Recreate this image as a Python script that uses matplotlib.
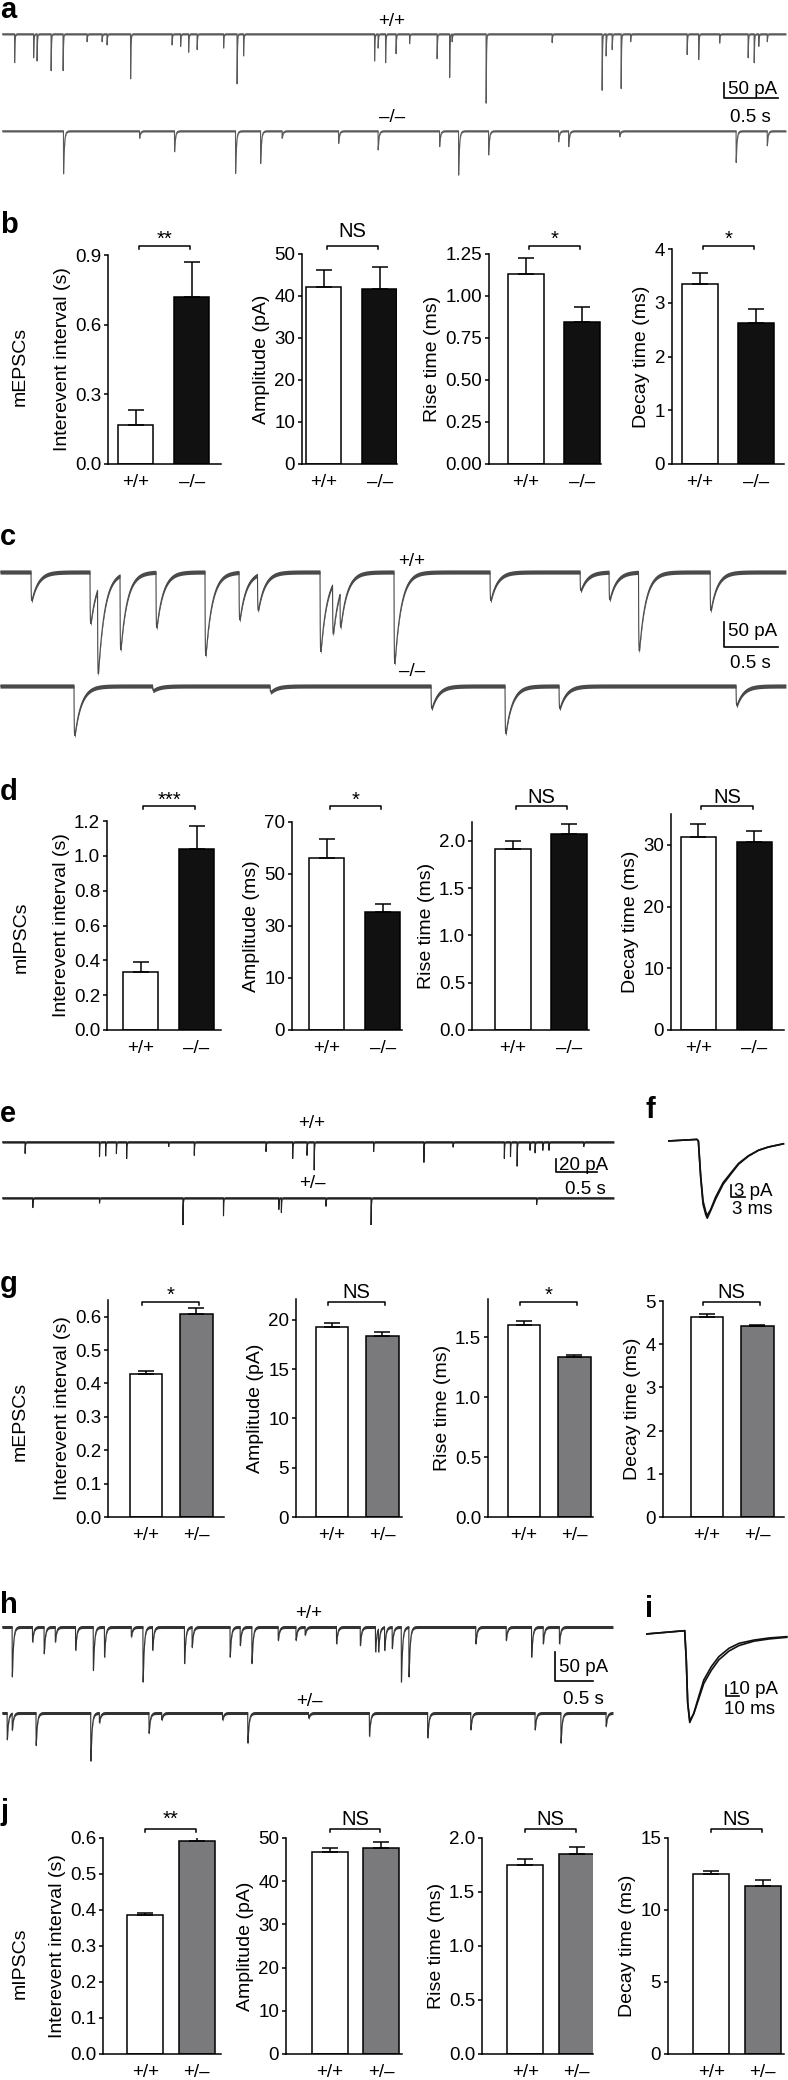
import numpy as np
import matplotlib
matplotlib.use('Agg')
import matplotlib.pyplot as plt
import matplotlib.transforms as mtransforms
from matplotlib.ticker import FormatStrFormatter, NullLocator

plt.rcParams['font.family'] = ['Liberation Sans', 'DejaVu Sans']

W, H = 788, 2080

# ---- traces: event times (s) and amplitudes (pA) ----
a_wt_t = [0.116, 0.292, 0.324, 0.454, 0.565, 0.787, 0.926, 0.972, 1.19, 1.574, 1.653, 1.727, 1.806,
          2.051, 2.176, 2.236, 3.449, 3.482, 3.551, 3.648, 3.773, 4.028, 4.144, 4.167, 4.482, 5.093,
          5.556, 5.593, 5.649, 5.732, 5.82, 6.343, 6.45, 6.644, 6.908, 6.964, 7.006, 7.085]
a_wt_a = [98, 81, 92, 125, 125, 26, 26, 37, 153, 37, 42, 62, 53,
          48, 170, 75, 92, 48, 98, 67, 33, 84, 148, 26, 236, 29,
          192, 75, 53, 186, 26, 70, 87, 31, 81, 98, 42, 26]
a_ko_t = [0.569, 1.273, 1.597, 2.162, 2.394, 2.593, 3.116, 3.482, 4.051, 4.227, 4.505, 5.153, 5.246,
          5.718, 6.797, 7.085]
a_ko_a = [143, 24, 69, 141, 108, 24, 41, 63, 52, 147, 80, 36, 52, 19, 105, 49]

c_wt_t = [0.287, 0.833, 0.903, 1.111, 1.444, 1.898, 2.213, 2.384, 2.963, 3.079, 3.148, 3.648, 4.537,
          5.371, 5.639, 5.912, 6.575]
c_wt_a = [57, 103, 170, 149, 111, 167, 95, 71, 159, 100, 70, 183, 57, 37, 55, 157, 77]
c_ko_t = [0.685, 1.412, 2.5, 3.991, 4.676, 5.176, 6.815]
c_ko_a = [99, 9, 12, 45, 95, 45, 39]

e_wt_t = [0.281, 1.188, 1.263, 1.394, 1.519, 2.031, 2.344, 3.219, 3.544, 3.719, 3.806, 4.531, 5.144,
          5.5, 6.125, 6.2, 6.281, 6.438, 6.5, 6.594, 6.669, 7.094]
e_wt_a = [18, 23, 22, 18, 26, 7, 21, 15, 26, 21, 44, 15, 32, 8, 26, 23, 38, 13, 17, 13, 13, 7]
e_het_t = [0.375, 1.188, 2.206, 2.7, 3.375, 3.406, 3.95, 4.5, 6.519]
e_het_a = [15, 8, 44, 28, 18, 23, 13, 46, 10]

h_wt_t = [0.133, 0.4, 0.553, 0.7, 0.967, 1.2, 1.347, 1.7, 1.854, 1.98, 2.4, 2.5, 3.0, 3.133, 3.287,
          3.633, 3.867, 3.987, 4.4, 4.713, 4.913, 4.953, 5.033, 5.133, 5.253, 5.353, 6.233, 6.633,
          6.967, 7.12, 7.333]
h_wt_a = [86, 26, 46, 26, 40, 75, 52, 17, 95, 40, 63, 35, 52, 32, 63,
          23, 23, 14, 29, 32, 43, 40, 40, 37, 95, 86, 29, 23,
          52, 29, 29]
h_het_t = [0.067, 0.133, 0.447, 1.167, 1.28, 1.933, 2.1, 2.9, 3.233, 4.033, 4.833, 5.6, 6.167, 7.013,
           7.353, 7.947]
h_het_a = [46, 29, 56, 83, 17, 35, 12, 12, 52, 9, 40, 43, 29, 29, 52, 23]

# averaged events (ms, pA)
f_t = [0, 6.2, 6.5, 7.0, 7.5, 8.1, 8.4, 9.1, 10.2, 11.8, 13.5, 15.1, 17.2, 19.4, 21.5, 24.7]
f_wt = [0, 0.4, 0, -9.2, -15.8, -18.5, -19.3, -17.5, -14.5, -10.8, -8.2, -5.8, -3.8, -2.3, -1.5, -0.7]
f_het = [0, 0.4, 0, -8.8, -15.0, -17.8, -18.6, -17.2, -14.0, -10.4, -7.9, -5.6, -3.7, -2.3, -1.5, -0.7]
i_t = [0, 29.8, 31.0, 32.1, 33.7, 36.8, 40.6, 44.5, 50.3, 56.1, 63.9, 71.6, 83.2, 94.8, 108.4]
i_wt = [0, 3.0, -23.6, -63.0, -80.6, -72.1, -56.9, -41.8, -29.7, -20.6, -13.0, -8.5, -5.5, -3.6, -2.4]
i_het = [0, 3.0, -23.0, -62.0, -79.0, -72.5, -59.0, -45.0, -33.0, -23.5, -15.5, -10.5, -6.5, -4.5, -3.0]

# ---- bar data: [first genotype, second genotype] ----
b_vals = [[0.168, 0.718], [42.1, 41.7], [1.129, 0.845], [3.34, 2.63]]
b_errs = [[0.063, 0.153], [4.1, 5.1], [0.095, 0.088], [0.22, 0.26]]
d_vals = [[0.331, 1.042], [56.2, 35.3], [1.919, 2.07], [31.2, 30.4]]
d_errs = [[0.059, 0.129], [7.2, 3.1], [0.085, 0.11], [2.1, 1.9]]
g_vals = [[0.428, 0.609], [19.26, 18.38], [1.603, 1.331], [4.62, 4.41]]
g_errs = [[0.008, 0.017], [0.4, 0.34], [0.028, 0.022], [0.07, 0.04]]
j_vals = [[0.385, 0.593], [46.8, 47.6], [1.751, 1.855], [12.53, 11.65]]
j_errs = [[0.008, 0.015], [1.0, 1.4], [0.055, 0.059], [0.16, 0.4]]

b_sig = ['**', 'NS', '*', '*']
d_sig = ['***', '*', 'NS', 'NS']
g_sig = ['*', 'NS', '*', 'NS']
j_sig = ['**', 'NS', 'NS', 'NS']

ylabels = ['Interevent interval (s)', 'Amplitude (pA)', 'Rise time (ms)', 'Decay time (ms)']
d_ylabels = ['Interevent interval (s)', 'Amplitude (ms)', 'Rise time (ms)', 'Decay time (ms)']
geno_ko = ['+/+', '–/–']
geno_het = ['+/+', '+/–']

b_ticks = [[0, 0.3, 0.6, 0.9], [0, 10, 20, 30, 40, 50], [0, 0.25, 0.5, 0.75, 1.0, 1.25], [0, 1, 2, 3, 4]]
d_ticks = [[0, 0.2, 0.4, 0.6, 0.8, 1.0, 1.2], [0, 10, 30, 50, 70], [0, 0.5, 1.0, 1.5, 2.0], [0, 10, 20, 30]]
g_ticks = [[0, 0.1, 0.2, 0.3, 0.4, 0.5, 0.6], [0, 5, 10, 15, 20], [0, 0.5, 1.0, 1.5], [0, 1, 2, 3, 4, 5]]
j_ticks = [[0, 0.1, 0.2, 0.3, 0.4, 0.5, 0.6], [0, 10, 20, 30, 40, 50], [0, 0.5, 1.0, 1.5, 2.0], [0, 5, 10, 15]]

fig = plt.figure(figsize=(W / 100, H / 100), dpi=100)


def rect(x0, y0, x1, y1):
    return [x0 / W, 1 - y1 / H, (x1 - x0) / W, (y1 - y0) / H]


def fy(y):
    return 1 - y / H


def ftext(x, y, s, **kw):
    kw.setdefault('fontsize', 13.5)
    kw.setdefault('va', 'center')
    fig.text(x / W, fy(y), s, **kw)


def build(t, times, amps, tr, td):
    y = np.zeros_like(t)
    tp = td * tr / (td - tr) * np.log(td / tr)
    peak = np.exp(-tp / td) - np.exp(-tp / tr)
    for t0, a in zip(times, amps):
        s = t - t0
        m = s > 0
        y[m] -= a * (np.exp(-s[m] / td) - np.exp(-s[m] / tr)) / peak
    return y


def trace_panel(x0, x1, y0, y1, s_px, pa_px, dt, traces, color, band, bar_px, bar_pa, bar_s):
    ax = fig.add_axes(rect(x0, y0, x1, y1))
    ax.axis('off')
    xmax = (x1 - x0) * s_px
    ax.set_xlim(0, xmax)
    ax.set_ylim(-(y1 - y0) * pa_px, 0)
    t = np.arange(0, xmax, dt)
    for times, amps, base_px, tr, td in traces:
        y = -(base_px - y0) * pa_px + build(t, times, amps, tr, td)
        # noise band around the trace
        ax.fill_between(t, y - band, y + band, color=color, lw=0)
        ax.plot(t, y, color=color, lw=0.8)
    bx = (bar_px[0] - x0) * s_px
    by = -(bar_px[1] - y0) * pa_px
    ax.plot([bx, bx, bx + bar_s], [by + bar_pa, by, by], color='k', lw=1.2)


def avg_panel(x0, x1, y0, y1, base_px, ms_px, pa_px, t, curves, bar_px, bar_pa, bar_ms):
    ax = fig.add_axes(rect(x0, y0, x1, y1))
    ax.axis('off')
    ax.set_xlim(0, (x1 - x0) * ms_px)
    ax.set_ylim(-(y1 - base_px) * pa_px, (base_px - y0) * pa_px)
    for c in curves:
        ax.plot(t, c, color='#111111', lw=1.2)
    bx = (bar_px[0] - x0) * ms_px
    by = -(bar_px[1] - base_px) * pa_px
    ax.plot([bx, bx, bx + bar_ms], [by + bar_pa, by, by], color='k', lw=1.2)


def amp_fwd(v):
    v = np.asarray(v, dtype=float)
    return np.where(v <= 10, v / 10, 1 + (v - 10) / 20)


def amp_inv(p):
    p = np.asarray(p, dtype=float)
    return np.where(p <= 1, p * 10, 10 + (p - 1) * 20)


def bar_row(lefts, rights, tops, bottom, xlos, ppu, width, vals, errs, color2, ylims, ticks, fmts,
            labels, geno, sigs, span, bracket_y, ns_base, star_bottom, func_chart=None):
    for k in range(4):
        ax = fig.add_axes(rect(lefts[k], tops[k], rights[k], bottom))
        if k == func_chart:
            ax.set_yscale('function', functions=(amp_fwd, amp_inv))
        ax.bar([0, 1], vals[k], width=width, color=['white', color2], edgecolor='black',
               linewidth=1.1, zorder=2)
        ax.errorbar([0, 1], vals[k], yerr=[[0, 0], errs[k]], fmt='none', ecolor='black',
                    elinewidth=1.1, capsize=6, capthick=1.1, zorder=3)
        ax.set_xlim(xlos[k], xlos[k] + (rights[k] - lefts[k]) / ppu)
        ax.set_ylim(*ylims[k])
        ax.set_yticks(ticks[k])
        if k == func_chart:
            ax.set_yticklabels([str(v) for v in ticks[k]])
        else:
            ax.yaxis.set_major_formatter(FormatStrFormatter(fmts[k]))
        ax.yaxis.set_minor_locator(NullLocator())
        ax.set_xticks([0, 1], geno)
        ax.tick_params(axis='x', length=0, pad=7, labelsize=13.5)
        ax.tick_params(axis='y', length=3, width=1.1, pad=2, labelsize=13.5, direction='out')
        for side in ['top', 'right']:
            ax.spines[side].set_visible(False)
        for side in ['left', 'bottom']:
            ax.spines[side].set_linewidth(1.1)
        ax.set_ylabel(labels[k], fontsize=14, labelpad=3)
        tr = mtransforms.blended_transform_factory(ax.transData, fig.transFigure)
        x0, x1 = span
        yb = fy(bracket_y)
        dy = 3 / H
        ax.plot([x0, x0, x1, x1], [yb - dy, yb, yb, yb - dy], transform=tr, color='k',
                lw=1.1, clip_on=False)
        if sigs[k] == 'NS':
            ax.text((x0 + x1) / 2, fy(ns_base), 'NS', transform=tr, ha='center',
                    va='baseline', fontsize=14.5)
        else:
            ax.text((x0 + x1) / 2, fy(star_bottom + 8), sigs[k], transform=tr, ha='center',
                    va='baseline', fontsize=14.5)


# ---- a ----
trace_panel(2, 786, 20, 200, 0.5 / 54, 50 / 15, 0.0005,
            [(a_wt_t, a_wt_a, 34, 0.0003, 0.003), (a_ko_t, a_ko_a, 131, 0.0003, 0.008)],
            '#5a5a5a', 3.3, (724, 98), 50, 0.5)
ftext(392, 22, '+/+', ha='center')
ftext(392, 117, '–/–', ha='center')
ftext(728, 90, '50 pA', ha='left')
ftext(750, 117, '0.5 s', ha='center')

# ---- b ----
bar_row([108, 302, 489, 672], [221, 397, 601, 784], [255, 254, 254, 249], 464,
        [-0.495, -0.39, -0.66, -0.5], 56, 0.63, b_vals, b_errs, '#111111',
        [(0, 0.9), (0, 50), (0, 1.25), (0, 4)], b_ticks, ['%.1f', '%d', '%.2f', '%d'],
        ylabels, geno_ko, b_sig, (0.05, 0.97), 246, 237, 237)

# ---- c ----
trace_panel(0, 786, 530, 760, 0.5 / 54, 2.0, 0.001,
            [(c_wt_t, c_wt_a, 572, 0.002, 0.06), (c_ko_t, c_ko_a, 686, 0.002, 0.06)],
            '#4a4a4a', 4.2, (724, 647), 50, 0.5)
ftext(412, 561, '+/+', ha='center')
ftext(412, 672, '–/–', ha='center')
ftext(728, 632, '50 pA', ha='left')
ftext(750, 664, '0.5 s', ha='center')

# ---- d ----
bar_row([107, 292, 472, 671], [221, 402, 589, 784], [821, 822, 822, 814], 1030,
        [-0.6, -0.62, -0.73, -0.49], 56, 0.63, d_vals, d_errs, '#111111',
        [(0, 1.2), (0, 70), (0, 2.2), (0, 35)], d_ticks, ['%.1f', '%d', '%.1f', '%d'],
        d_ylabels, geno_ko, d_sig, (0.05, 0.97), 806, 803, 798, func_chart=1)

# ---- e ----
trace_panel(2, 614, 1130, 1225, 0.5 / 41, 20 / 13, 0.0005,
            [(e_wt_t, e_wt_a, 1142, 0.0003, 0.003), (e_het_t, e_het_a, 1198, 0.0003, 0.003)],
            '#222222', 1.7, (556, 1172), 20, 0.5)
ftext(312, 1124, '+/+', ha='center')
ftext(312, 1184, '+/–', ha='center')
ftext(559, 1165, '20 pA', ha='left')
ftext(585, 1190, '0.5 s', ha='center')

# ---- f ----
avg_panel(668, 788, 1128, 1222, 1141, 0.214, 0.25, f_t, [f_wt, f_het], (731, 1197), 3, 3)
ftext(734, 1191, '3 pA', ha='left')
ftext(752, 1210, '3 ms', ha='center')

# ---- g ----
bar_row([108, 296, 488, 663], [224, 402, 593, 784], [1300, 1299, 1299, 1301], 1517,
        [-0.75, -0.71, -0.71, -0.87], 50.5, 0.64, g_vals, g_errs, '#7a7a7d',
        [(0, 0.65), (0, 22.1), (0, 1.817), (0, 5)], g_ticks, ['%.1f', '%d', '%.1f', '%d'],
        ylabels, geno_het, g_sig, (-0.08, 1.05), 1302, 1298, 1293)

# ---- h ----
trace_panel(2, 613, 1618, 1770, 0.5 / 38, 50 / 29, 0.001,
            [(h_wt_t, h_wt_a, 1627, 0.001, 0.015), (h_het_t, h_het_a, 1713, 0.001, 0.015)],
            '#333333', 2.6, (555, 1681), 50, 0.5)
ftext(309, 1614, '+/+', ha='center')
ftext(309, 1702, '+/–', ha='center')
ftext(559, 1667, '50 pA', ha='left')
ftext(583, 1700, '0.5 s', ha='center')

# ---- i ----
avg_panel(646, 788, 1620, 1728, 1634, 0.77, 0.91, i_t, [i_wt, i_het], (726, 1696), 10, 10)
ftext(729, 1690, '10 pA', ha='left')
ftext(750, 1710, '10 ms', ha='center')

# ---- j ----
bar_row([103, 286, 482, 668], [221, 402, 593, 784], [1838, 1838, 1838, 1838], 2054,
        [-0.82, -0.85, -0.84, -0.84], 51.5, 0.7, j_vals, j_errs, '#7a7a7d',
        [(0, 0.6), (0, 50), (0, 2.0), (0, 15)], j_ticks, ['%.1f', '%d', '%.1f', '%d'],
        ylabels, geno_het, j_sig, (0.0, 0.98), 1829, 1825, 1817)

# group labels and panel letters
ftext(20, 366, 'mEPSCs', ha='center', rotation=90, fontsize=14)
ftext(21, 937, 'mIPSCs', ha='center', rotation=90, fontsize=14)
ftext(20, 1421, 'mEPSCs', ha='center', rotation=90, fontsize=14)
ftext(20, 1963, 'mIPSCs', ha='center', rotation=90, fontsize=14)

for letter, x, y in [('a', 0, 18), ('b', 0, 233), ('c', 0, 545), ('d', 0, 800), ('e', 0, 1122),
                     ('f', 645, 1118), ('g', 0, 1292), ('h', 0, 1613), ('i', 645, 1617),
                     ('j', 0, 1820)]:
    ftext(x, y, letter, ha='left', va='baseline', fontsize=21, fontweight='bold')

fig.savefig('out.png', dpi=100)
